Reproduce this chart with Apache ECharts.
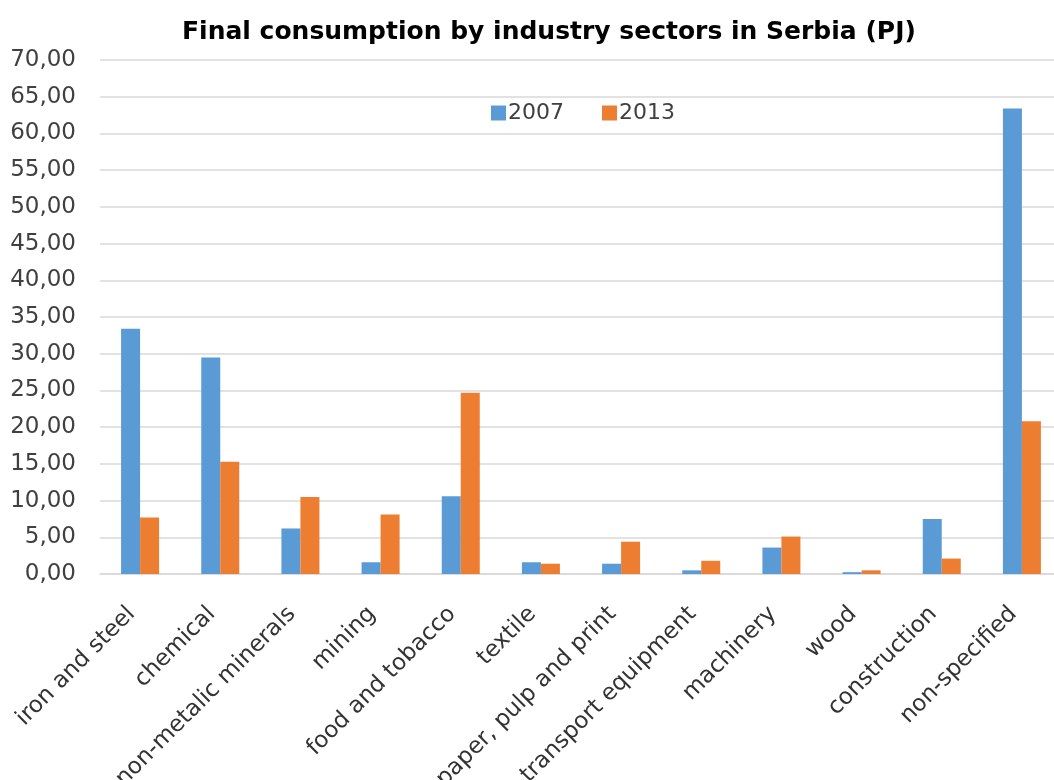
<!DOCTYPE html>
<html>
<head>
<meta charset="utf-8">
<script src="https://cdn.jsdelivr.net/npm/echarts@6/dist/echarts.min.js"></script>
<style>
  html, body { margin: 0; padding: 0; background: #ffffff; }
  #chart { width: 1054px; height: 780px; }
</style>
</head>
<body>
<div id="chart"></div>
<script>
// Industry sectors (x-axis categories)
const sectors = [
  'iron and steel', 'chemical', 'non-metalic minerals', 'mining',
  'food and tobacco', 'textile', 'paper, pulp and print',
  'transport equipment', 'machinery', 'wood', 'construction', 'non-specified'
];

// Final consumption, PJ
const values2007 = [33.4, 29.5, 6.2, 1.6, 10.6, 1.6, 1.4, 0.5, 3.6, 0.25, 7.5, 63.4];
const values2013 = [7.7, 15.3, 10.5, 8.1, 24.7, 1.4, 4.4, 1.8, 5.1, 0.5, 2.1, 20.8];

const seriesNames = ['2007', '2013'];

// Y axis range
const yMin = 0;
const yMax = 70;
const yStep = 5;

const FONT = '"DejaVu Sans", "Liberation Sans", Arial, sans-serif';

const chart = echarts.init(document.getElementById('chart'), null, { renderer: 'canvas' });

chart.setOption({
  backgroundColor: '#ffffff',
  animation: false,
  title: {
    text: 'Final consumption by industry sectors in Serbia (PJ)',
    left: 177,
    top: 15,
    textStyle: {
      fontFamily: FONT,
      fontSize: 25,
      fontWeight: 'bold',
      color: '#000000'
    }
  },
  legend: {
    data: seriesNames,
    top: 97,
    left: 486,
    itemWidth: 15,
    itemHeight: 15,
    itemGap: 38,
    icon: 'rect',
    textStyle: {
      fontFamily: FONT,
      fontSize: 22,
      color: '#404040',
      padding: [0, 0, 0, -3]
    }
  },
  grid: {
    left: 100,
    right: -8,
    top: 60,
    bottom: 206,
    containLabel: false,
    outerBoundsMode: 'none'
  },
  xAxis: {
    type: 'category',
    data: sectors,
    axisLine: { show: true, lineStyle: { color: '#d9d9d9', width: 1.5 } },
    axisTick: { show: false },
    axisLabel: {
      interval: 0,
      rotate: 45,
      margin: 28,
      padding: [0, 12, 0, 0],
      fontFamily: FONT,
      fontSize: 23,
      color: '#333333'
    }
  },
  yAxis: {
    type: 'value',
    min: yMin,
    max: yMax,
    interval: yStep,
    axisLine: { show: false },
    axisTick: { show: false },
    splitLine: { show: true, lineStyle: { color: '#d9d9d9', width: 1.5 } },
    axisLabel: {
      margin: 24,
      fontFamily: FONT,
      fontSize: 23,
      color: '#404040',
      formatter: v => v.toFixed(2).replace('.', ',')
    }
  },
  series: [
    {
      name: seriesNames[0],
      type: 'bar',
      data: values2007,
      barWidth: 19,
      barGap: '0%',
      itemStyle: { color: '#5B9BD5' }
    },
    {
      name: seriesNames[1],
      type: 'bar',
      data: values2013,
      barWidth: 19,
      barGap: '0%',
      itemStyle: { color: '#ED7D31' }
    }
  ]
});
</script>
</body>
</html>
